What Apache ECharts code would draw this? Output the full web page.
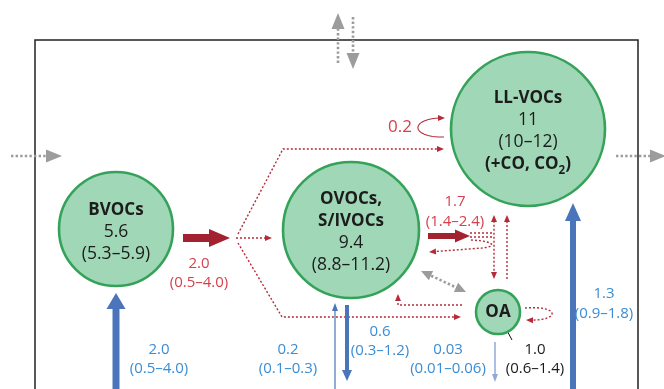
<!DOCTYPE html>
<html><head><meta charset="utf-8">
<script src="https://cdn.jsdelivr.net/npm/echarts@6/dist/echarts.min.js"></script>
<style>html,body{margin:0;padding:0;background:#fff}#c{width:664px;height:389px}</style>
</head><body><div id="c"></div>
<script>
// ---------- data ----------
const nodeNames  = [['BVOCs'], ['OVOCs,', 'S/IVOCs'], ['LL-VOCs'], ['OA']];
const nodeValues = ['5.6', '9.4', '11', ''];
const nodeRanges = ['(5.3–5.9)', '(8.8–11.2)', '(10–12)', ''];
const nodeExtra  = ['', '', '(+CO, CO{s|2})', ''];

const flowValues = ['2.0', '2.0', '0.2', '0.6', '0.03', '1.0', '1.3', '1.7', '0.2'];
const flowRanges = ['(0.5–4.0)', '(0.5–4.0)', '(0.1–0.3)', '(0.3–1.2)', '(0.01–0.06)', '(0.6–1.4)', '(0.9–1.8)', '(1.4–2.4)', ''];

// ---------- layout (diagram coordinates) ----------
const nodeLayout = [[116, 229, 57], [351, 230, 68], [528, 129, 77], [498, 312, 22]];
const nodeTextCenter = [232, 232, 131, 312];
const flowLabelLayout = [
  [199, 264, 'red'], [159, 350, 'blue'], [288, 350, 'blue'], [380, 332, 'blue'],
  [448, 350, 'blue'], [535, 350, 'black'], [604, 294, 'blue'], [455, 202, 'red'], [400, 127, 'red']
];

function bez(p0, c1, c2, p3, n) {
  const out = [];
  for (let i = 0; i <= n; i++) {
    const t = i / n, a = (1 - t) ** 3, b = 3 * (1 - t) ** 2 * t, c = 3 * (1 - t) * t * t, d = t ** 3;
    out.push([a * p0[0] + b * c1[0] + c * c2[0] + d * p3[0], a * p0[1] + b * c1[1] + c * c2[1] + d * p3[1]]);
  }
  return out;
}

const ST = {
  redDot:  {color: '#b52b39', width: 1.4, dash: [2, 2], head: [7, 6]},
  grayBig: {color: '#9c9c9c', width: 2.6, dash: [2.4, 2.2], head: [16, 13]},
  grayMid: {color: '#9c9c9c', width: 2.6, dash: [2.4, 2.2], head: [11, 10]},
  redThick:{color: '#a3222f', width: 8, head: [21, 18]},
  redMid:  {color: '#a3222f', width: 6, head: [15, 13]},
  blueBig: {color: '#4a75bb', width: 7, head: [16, 19]},
  blueLL:  {color: '#4a75bb', width: 6, head: [18, 16]},
  blueMid: {color: '#4a75bb', width: 4, head: [11, 10]},
  blueThin:{color: '#4a75bb', width: 1.2, head: [8, 6]},
  bluePale:{color: '#8faad8', width: 1.5, head: [8, 6]},
  redLine: {color: '#b52b39', width: 1.1, head: [7, 6]},
  black:   {color: '#111111', width: 1}
};

// arrows: [points, style, headAtEnd, headAtStart]
const arrows = [
  [[[11, 156], [62, 156]], 'grayBig', true, false],
  [[[616, 156], [666, 156]], 'grayBig', true, false],
  [[[338, 63], [338, 13]], 'grayBig', true, false],
  [[[353, 17], [353, 69]], 'grayBig', true, false],
  [[[421, 271], [466, 292]], 'grayMid', true, true],
  [[[116, 400], [116, 293]], 'blueBig', true, false],
  [[[183, 238], [230, 238]], 'redThick', true, false],
  [[[238, 234], [283, 149], [444, 149]], 'redDot', true, false],
  [[[236, 238], [272, 238]], 'redDot', true, false],
  [[[238, 243], [282, 317], [461, 317]], 'redDot', true, false],
  [[[428, 236], [470, 236]], 'redMid', true, false],
  [[[470, 233], [494, 233]], 'redDot', false, false],
  [[[470, 237], [494, 237]], 'redDot', false, false],
  [bez([471, 240], [496, 241], [497, 247], [482, 248], 8).concat([[429, 252]]), 'redDot', true, false],
  [[[494, 279], [494, 215]], 'redDot', true, true],
  [[[507, 279], [507, 215]], 'redDot', true, false],
  [[[462, 305], [398, 305], [398, 294]], 'redDot', true, false],
  [bez([525, 308], [561, 305], [561, 322], [526, 320], 16), 'redDot', true, false],
  [bez([444, 137], [409, 138], [409, 117], [445, 118], 16), 'redLine', true, false],
  [[[335, 400], [335, 303]], 'blueThin', true, false],
  [[[347, 305], [347, 381]], 'blueMid', true, false],
  [[[495, 342], [495, 382]], 'bluePale', true, false],
  [[[573, 400], [573, 203]], 'blueLL', true, false],
  [[[503, 323], [512, 340]], 'black', false, false]
];

const colorMap = {red: '#d5404d', blue: '#3a8dd5', black: '#1a1a1a'};
const FONT = '"Open Sans", "Noto Sans", sans-serif';

function head(tip, from, len, wid) {
  const dx = tip[0] - from[0], dy = tip[1] - from[1], d = Math.hypot(dx, dy) || 1;
  const ux = dx / d, uy = dy / d, px = -uy, py = ux;
  const bx = tip[0] - ux * len, by = tip[1] - uy * len;
  return {
    poly: [tip, [bx + px * wid / 2, by + py * wid / 2], [bx - px * wid / 2, by - py * wid / 2]],
    cut: [tip[0] - ux * len * 0.6, tip[1] - uy * len * 0.6]
  };
}

const chart = echarts.init(document.getElementById('c'), null, {renderer: 'canvas'});
chart.setOption({
  animation: false,
  backgroundColor: '#ffffff',
  grid: {left: 0, right: 0, top: 0, bottom: 0},
  xAxis: {type: 'value', min: 0, max: 664, show: false},
  yAxis: {type: 'value', min: 0, max: 389, inverse: true, show: false},
  series: [
    { // frame
      type: 'custom', clip: false, silent: true, data: [[0]],
      renderItem: (p, api) => {
        const a = api.coord([35, 40]), b = api.coord([638, 400]);
        return {type: 'rect', shape: {x: a[0], y: a[1], width: b[0] - a[0], height: b[1] - a[1]},
          style: {fill: 'none', stroke: '#222', lineWidth: 1.5}};
      }
    },
    { // flows
      type: 'custom', clip: false, silent: true,
      data: arrows.map((a, i) => [i]),
      renderItem: (p, api) => {
        const [pts0, sk, hEnd, hStart] = arrows[p.dataIndex];
        const s = ST[sk];
        const pts = pts0.map(q => api.coord(q));
        const children = [];
        if (hEnd) {
          const h = head(pts[pts.length - 1], pts[pts.length - 2], s.head[0], s.head[1]);
          pts[pts.length - 1] = h.cut;
          children.push({type: 'polygon', shape: {points: h.poly}, style: {fill: s.color}});
        }
        if (hStart) {
          const h = head(pts[0], pts[1], s.head[0], s.head[1]);
          pts[0] = h.cut;
          children.push({type: 'polygon', shape: {points: h.poly}, style: {fill: s.color}});
        }
        children.unshift({type: 'polyline', shape: {points: pts},
          style: {fill: 'none', stroke: s.color, lineWidth: s.width, lineDash: s.dash || null}});
        return {type: 'group', children};
      }
    },
    { // nodes
      type: 'custom', clip: false, silent: true,
      data: nodeLayout.map(n => [n[0], n[1], n[2]]),
      renderItem: (p, api) => {
        const i = p.dataIndex;
        const c = api.coord([api.value(0), api.value(1)]);
        const r = api.size([api.value(2), 0])[0];
        const lines = [];
        nodeNames[i].forEach(t => lines.push([t, 'bold']));
        if (nodeValues[i]) lines.push([nodeValues[i], 'normal']);
        if (nodeRanges[i]) lines.push([nodeRanges[i], 'normal']);
        if (nodeExtra[i]) lines.push([nodeExtra[i], 'bold']);
        const lh = 22;
        const yc = api.coord([0, nodeTextCenter[i]])[1];
        const y0 = yc - (lines.length - 1) * lh / 2;
        const children = [{type: 'circle', shape: {cx: c[0], cy: c[1], r: r},
          style: {fill: '#a0d7b7', stroke: '#35a25a', lineWidth: 2.6}}];
        lines.forEach((l, k) => {
          children.push({type: 'text', x: c[0], y: y0 + k * lh,
            style: {text: l[0], fill: '#1c1c1c', fontFamily: FONT,
              fontSize: l[1] === 'bold' ? 17 : 17.5, fontWeight: l[1],
              align: 'center', verticalAlign: 'middle',
              rich: {s: {fontSize: 11.5, fontWeight: 'bold', fontFamily: FONT, fill: '#1c1c1c',
                lineHeight: 11, padding: [14, 0, 0, 0], verticalAlign: 'middle'}}}});
        });
        return {type: 'group', children};
      }
    },
    { // flow labels
      type: 'custom', clip: false, silent: true,
      data: flowLabelLayout.map(l => [l[0], l[1]]),
      renderItem: (p, api) => {
        const i = p.dataIndex;
        const c = api.coord([api.value(0), api.value(1)]);
        const col = colorMap[flowLabelLayout[i][2]];
        const single = !flowRanges[i];
        const gap = (i === 7 || i === 6) ? 19.5 : 18.5;
        const children = [{type: 'text', x: c[0], y: c[1],
          style: {text: flowValues[i], fill: col, fontFamily: FONT, fontSize: single ? 17 : 15,
            align: 'center', verticalAlign: 'middle'}}];
        if (!single) children.push({type: 'text', x: c[0], y: c[1] + gap,
          style: {text: flowRanges[i], fill: col, fontFamily: FONT, fontSize: 15,
            align: 'center', verticalAlign: 'middle'}});
        return {type: 'group', children};
      }
    }
  ]
});
</script></body></html>
